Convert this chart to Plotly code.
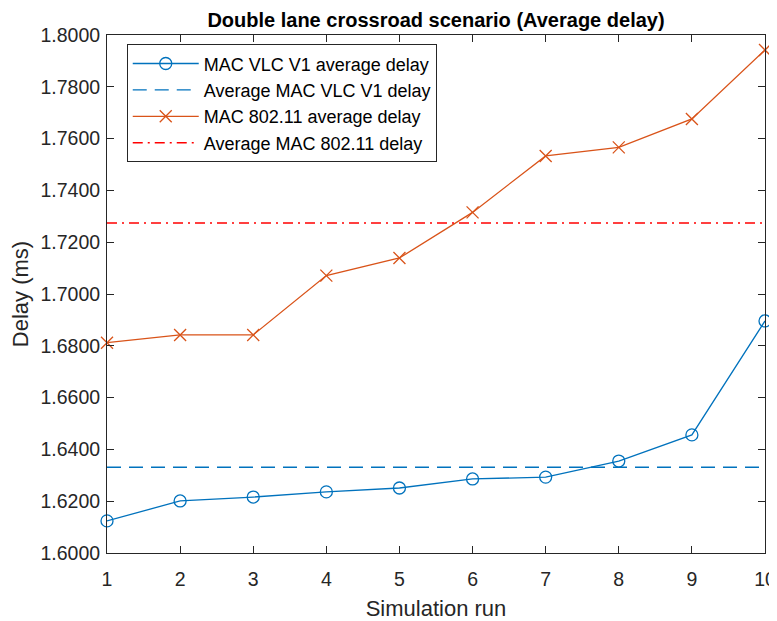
import plotly.graph_objects as go

# Simulation runs
runs = [1, 2, 3, 4, 5, 6, 7, 8, 9, 10]

# Average delay per run (ms)
vlc_delay = [1.6124, 1.6201, 1.6216, 1.6236, 1.6251, 1.6286, 1.6293, 1.6355, 1.6456, 1.6896]
wifi_delay = [1.6812, 1.6842, 1.6842, 1.7071, 1.7139, 1.7315, 1.7533, 1.7566, 1.7676, 1.7942]

# Overall averages (horizontal reference lines)
vlc_avg = 1.6331
wifi_avg = 1.7274

y_ticks = [1.60, 1.62, 1.64, 1.66, 1.68, 1.70, 1.72, 1.74, 1.76, 1.78, 1.80]

blue = '#0072BD'
orange = '#D95319'
red = '#FF0000'
font_family = 'Liberation Sans, Arial, sans-serif'

fig = go.Figure()

fig.add_trace(go.Scatter(
    x=runs, y=vlc_delay,
    mode='lines+markers',
    name='MAC VLC V1 average delay',
    line=dict(color=blue, width=1.3),
    marker=dict(symbol='circle-open', size=12, color=blue, line=dict(width=1.3)),
    cliponaxis=False
))

fig.add_trace(go.Scatter(
    x=[runs[0], runs[-1]], y=[vlc_avg, vlc_avg],
    mode='lines',
    name='Average MAC VLC V1 delay',
    line=dict(color=blue, width=1.3, dash='14px,8px')
))

fig.add_trace(go.Scatter(
    x=runs, y=wifi_delay,
    mode='lines+markers',
    name='MAC 802.11 average delay',
    line=dict(color=orange, width=1.3),
    marker=dict(symbol='x-thin-open', size=12, color=orange, line=dict(width=1.3, color=orange)),
    cliponaxis=False
))

fig.add_trace(go.Scatter(
    x=[runs[0], runs[-1]], y=[wifi_avg, wifi_avg],
    mode='lines',
    name='Average MAC 802.11 delay',
    line=dict(color=red, width=1.5, dash='10px,5px,2px,5px')
))

axis_common = dict(
    showline=True, linecolor='#262626', linewidth=1,
    mirror='ticks', ticks='inside', ticklen=7, tickcolor='#262626',
    showgrid=False, zeroline=False, automargin=False,
    tickfont=dict(family=font_family, size=19.5, color='#262626'),
)

# the page body adds an 8px margin, so the figure is offset by 8px
fig.update_layout(
    width=769, height=613,
    margin=dict(l=99, r=12, t=27, b=68),
    paper_bgcolor='white', plot_bgcolor='white',
    title=dict(
        text='<b>Double lane crossroad scenario (Average delay)</b>',
        x=428 / 769, xanchor='center',
        y=1 - 5 / 613, yanchor='top',
        font=dict(family=font_family, size=20, color='black')
    ),
    xaxis=dict(
        range=[1, 10], tickvals=runs, ticklabelstandoff=9,
        title=dict(text='Simulation run', standoff=12,
                   font=dict(family=font_family, size=22, color='#262626')),
        **axis_common
    ),
    yaxis=dict(
        range=[1.6, 1.8], tickvals=y_ticks, tickformat='.4f', ticklabelstandoff=2,
        title=dict(text='Delay (ms)', standoff=8,
                   font=dict(family=font_family, size=22, color='#262626')),
        **axis_common
    ),
    legend=dict(
        x=0.03, y=0.982, xanchor='left', yanchor='top',
        bgcolor='white', bordercolor='#262626', borderwidth=1,
        font=dict(family=font_family, size=18, color='black'),
        tracegroupgap=0, itemwidth=66
    ),
    showlegend=True
)

fig.write_html("out.html")
